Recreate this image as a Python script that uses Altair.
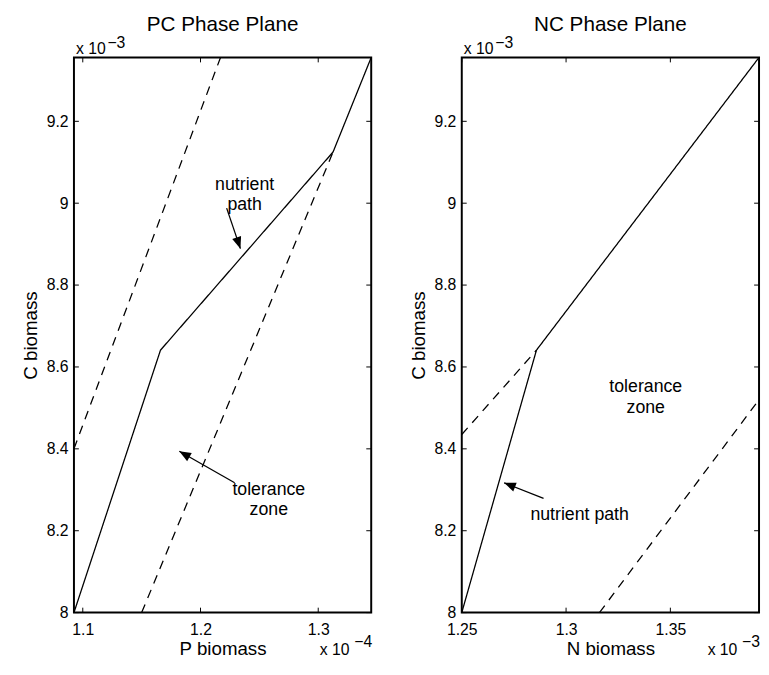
import math
import altair as alt
import pandas as pd

FONT = "Liberation Sans"
W, H = 302, 564
TICK = 5

# ---------------- data (C in 1e-3, P in 1e-4, N in 1e-3) ----------------
y_domain = [8.0, 9.356]
y_ticks = [8.0, 8.2, 8.4, 8.6, 8.8, 9.0, 9.2]

# PC phase plane
pc_x_domain = [1.0925, 1.345]
pc_x_ticks = [1.1, 1.2, 1.3]
pc_path_p = [1.0925, 1.166, 1.3126, 1.345]
pc_path_c = [8.0, 8.641, 9.125, 9.356]
pc_tol_hi_p = [1.0925, 1.217]
pc_tol_hi_c = [8.40, 9.356]
pc_tol_lo_p = [1.150, 1.3126]
pc_tol_lo_c = [8.0, 9.125]
pc_labels = ["nutrient\npath", "tolerance\nzone"]
pc_label_p = [1.2375, 1.2580]
pc_label_c = [9.045, 8.300]
pc_arrow_tail_p = [1.2222, 1.2290]
pc_arrow_tail_c = [8.988, 8.317]
pc_arrow_tip_p = [1.2339, 1.1820]
pc_arrow_tip_c = [8.889, 8.394]

# NC phase plane
nc_x_domain = [1.25, 1.3925]
nc_x_ticks = [1.25, 1.3, 1.35]
nc_path_n = [1.25, 1.2858, 1.3925]
nc_path_c = [8.0, 8.641, 9.356]
nc_tol_hi_n = [1.25, 1.2858]
nc_tol_hi_c = [8.435, 8.641]
nc_tol_lo_n = [1.316, 1.3925]
nc_tol_lo_c = [8.0, 8.52]
nc_labels = ["tolerance\nzone", "nutrient path"]
nc_label_n = [1.3382, 1.3065]
nc_label_c = [8.550, 8.238]
nc_arrow_tail_n = [1.2892]
nc_arrow_tail_c = [8.279]
nc_arrow_tip_n = [1.2703]
nc_arrow_tip_c = [8.317]

exp_base = ["x 10"]
pc_x_exp = ["\u22124"]
nc_x_exp = ["\u22123"]
y_exp = ["\u22123"]

HEAD = "M0,0L-1,2.5L1,2.5Z"


def panel(title, xtitle, xdom, xticks, lines, labels, lx, ly,
          tails_x, tails_y, tips_x, tips_y, xexp):
    xs = alt.Scale(domain=xdom, nice=False, zero=False)
    ys = alt.Scale(domain=y_domain, nice=False, zero=False)
    xaxis = alt.Axis(values=xticks, format="~g", title=xtitle, labelPadding=9,
                     titlePadding=3, ticks=False, tickSize=0, domain=False,
                     grid=False, labelFlush=False, labelOverlap=False)
    yaxis = alt.Axis(values=y_ticks, format="~g", title="C biomass", labelPadding=6,
                     titlePadding=6, ticks=False, tickSize=0, domain=False,
                     grid=False, labelFlush=False, labelOverlap=False)
    X = lambda f="x": alt.X(f"{f}:Q", scale=xs, axis=xaxis)
    Y = lambda f="y": alt.Y(f"{f}:Q", scale=ys, axis=yaxis)

    layers = []
    for xv, yv, dashed in lines:
        df = pd.DataFrame({"x": xv, "y": yv, "o": list(range(len(xv)))})
        m = alt.Chart(df).mark_line(color="black", strokeWidth=1.3, clip=True,
                                    strokeDash=[9, 7] if dashed else [1, 0])
        layers.append(m.encode(x=X(), y=Y(), order="o:Q"))

    # arrows
    kx = W / (xdom[1] - xdom[0])
    ky = H / (y_domain[1] - y_domain[0])
    for tx, ty, px, py in zip(tails_x, tails_y, tips_x, tips_y):
        df = pd.DataFrame({"x": [tx], "y": [ty], "x2": [px], "y2": [py]})
        layers.append(alt.Chart(df).mark_rule(color="black", strokeWidth=1.3).encode(
            x=X(), y=Y(), x2="x2:Q", y2="y2:Q"))
        dxp = (px - tx) * kx
        dyp = -(py - ty) * ky
        ang = math.degrees(math.atan2(dxp, -dyp)) % 360
        dfh = pd.DataFrame({"x": [px], "y": [py]})
        layers.append(alt.Chart(dfh).mark_point(shape=HEAD, filled=True, color="black",
                                                 opacity=1, size=90, angle=ang,
                                                 strokeWidth=0).encode(x=X(), y=Y()))

    # annotation labels (y = first line)
    dfl = pd.DataFrame({"x": lx, "y": ly, "t": labels})
    layers.append(alt.Chart(dfl).mark_text(font=FONT, fontSize=18, color="black",
                                           lineBreak="\n", lineHeight=21,
                                           align="center", baseline="middle").encode(
        x=X(), y=Y(), text="t:N"))

    # inward ticks on all four sides
    dxt = pd.DataFrame({"x": xticks})
    dyt = pd.DataFrame({"y": y_ticks})
    layers.append(alt.Chart(dxt).mark_rule(color="black", strokeWidth=1).encode(
        x=X(), y=alt.value(H), y2=alt.value(H - TICK)))
    layers.append(alt.Chart(dxt).mark_rule(color="black", strokeWidth=1).encode(
        x=X(), y=alt.value(0), y2=alt.value(TICK)))
    layers.append(alt.Chart(dyt).mark_rule(color="black", strokeWidth=1).encode(
        y=Y(), x=alt.value(0), x2=alt.value(TICK)))
    layers.append(alt.Chart(dyt).mark_rule(color="black", strokeWidth=1).encode(
        y=Y(), x=alt.value(W), x2=alt.value(W - TICK)))

    # exponent annotations (MATLAB style)
    base = pd.DataFrame({"t": exp_base})
    layers.append(alt.Chart(base).mark_text(font=FONT, fontSize=16, color="black",
                                            align="left", baseline="alphabetic").encode(
        text="t:N", x=alt.value(2), y=alt.value(-3)))
    layers.append(alt.Chart(pd.DataFrame({"t": y_exp})).mark_text(
        font=FONT, fontSize=16, color="black", align="left", baseline="alphabetic").encode(
        text="t:N", x=alt.value(34), y=alt.value(-10)))
    layers.append(alt.Chart(base).mark_text(font=FONT, fontSize=16, color="black",
                                            align="right", baseline="alphabetic").encode(
        text="t:N", x=alt.value(W - 22), y=alt.value(H + 43)))
    layers.append(alt.Chart(pd.DataFrame({"t": xexp})).mark_text(
        font=FONT, fontSize=16, color="black", align="right", baseline="alphabetic").encode(
        text="t:N", x=alt.value(W + 1), y=alt.value(H + 35)))

    return alt.layer(*layers).properties(
        width=W, height=H,
        title=alt.TitleParams(title, font=FONT, fontSize=21, fontWeight="normal",
                              color="black", anchor="middle", offset=0))


left = panel("PC Phase Plane", "P biomass", pc_x_domain, pc_x_ticks,
             [(pc_path_p, pc_path_c, False), (pc_tol_hi_p, pc_tol_hi_c, True),
              (pc_tol_lo_p, pc_tol_lo_c, True)],
             pc_labels, pc_label_p, pc_label_c,
             pc_arrow_tail_p, pc_arrow_tail_c, pc_arrow_tip_p, pc_arrow_tip_c, pc_x_exp)

right = panel("NC Phase Plane", "N biomass", nc_x_domain, nc_x_ticks,
              [(nc_path_n, nc_path_c, False), (nc_tol_hi_n, nc_tol_hi_c, True),
               (nc_tol_lo_n, nc_tol_lo_c, True)],
              nc_labels, nc_label_n, nc_label_c,
              nc_arrow_tail_n, nc_arrow_tail_c, nc_arrow_tip_n, nc_arrow_tip_c, nc_x_exp)

chart = alt.hconcat(left, right, spacing=35).configure(
    padding={"left": 12, "top": 0, "right": 0, "bottom": 0}
).configure_view(stroke="black", strokeWidth=2).configure_axis(
    labelFont=FONT, labelFontSize=16, labelColor="black",
    titleFont=FONT, titleFontSize=19, titleFontWeight="normal", titleColor="black")

chart.save("out.html", embed_options={"renderer": "svg", "actions": False})
